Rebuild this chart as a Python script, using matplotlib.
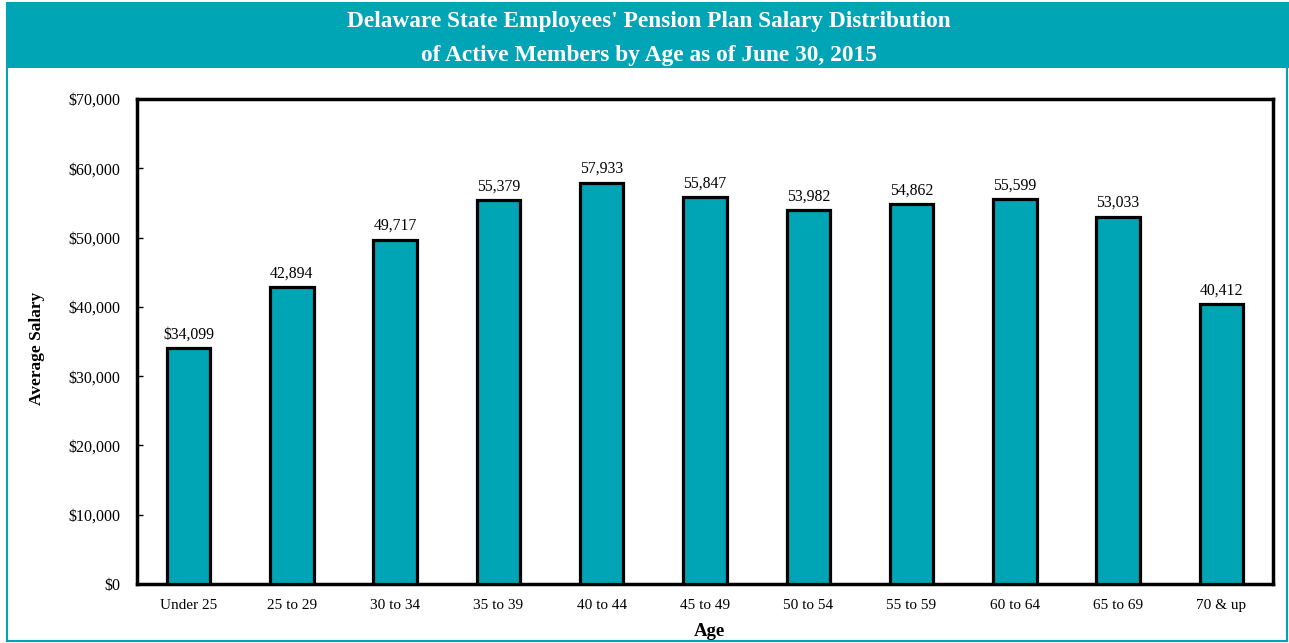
import matplotlib
matplotlib.use("Agg")
import matplotlib.pyplot as plt
from matplotlib.patches import Rectangle
from matplotlib.lines import Line2D

categories = ["Under 25", "25 to 29", "30 to 34", "35 to 39", "40 to 44", "45 to 49",
              "50 to 54", "55 to 59", "60 to 64", "65 to 69", "70 & up"]
salaries = [34099, 42894, 49717, 55379, 57933, 55847, 53982, 54862, 55599, 53033, 40412]
value_labels = ["$34,099", "42,894", "49,717", "55,379", "57,933", "55,847",
                "53,982", "54,862", "55,599", "53,033", "40,412"]
yticks = [0, 10000, 20000, 30000, 40000, 50000, 60000, 70000]
ytick_labels = ["$0", "$10,000", "$20,000", "$30,000", "$40,000", "$50,000", "$60,000", "$70,000"]

TEAL = "#00A5B5"
W, H = 1289, 643
plt.rcParams['font.family'] = ['Liberation Serif', 'DejaVu Serif']

fig = plt.figure(figsize=(W / 100, H / 100), dpi=100)

# title band
fig.patches.append(Rectangle((6 / W, 1 - 68 / H), 1 - 6 / W, 66 / H, transform=fig.transFigure,
                             facecolor=TEAL, edgecolor='none', zorder=0))
# outer border
for (x0, y0, x1, y1) in [(6.5, 68, 6.5, 641), (1286.5, 68, 1286.5, 641), (6.5, 640.5, 1286.5, 640.5)]:
    fig.lines.append(Line2D([x0 / W, x1 / W], [1 - y0 / H, 1 - y1 / H], transform=fig.transFigure,
                            color=TEAL, linewidth=1.5))

fig.text(649 / W, 1 - 22 / H, "Delaware State Employees' Pension Plan Salary Distribution",
         ha='center', va='center', color='white', fontsize=16.8, fontweight='bold')
fig.text(649 / W, 1 - 55 / H, "of Active Members by Age as of June 30, 2015",
         ha='center', va='center', color='white', fontsize=16.8, fontweight='bold')

ax = fig.add_axes([137 / W, 1 - 584 / H, (1273 - 137) / W, (584 - 99) / H])
x = list(range(len(categories)))
ax.bar(x, salaries, width=0.42, color=TEAL, edgecolor='black', linewidth=2.3, zorder=3)
for xi, v, lab in zip(x, salaries, value_labels):
    ax.text(xi, v + 800, lab, ha='center', va='bottom', fontsize=11.3)

ax.set_xlim(-0.5, len(categories) - 0.5)
ax.set_ylim(0, 70000)
ax.set_yticks(yticks)
ax.set_yticklabels(ytick_labels, fontsize=11.5)
ax.set_xticks(x)
ax.set_xticklabels(categories, fontsize=11)
ax.tick_params(axis='y', direction='in', length=4, width=1, pad=12)
ax.tick_params(axis='x', length=0, pad=11)
for s in ax.spines.values():
    s.set_linewidth(2.5)
    s.set_color('black')

fig.text(37 / W, 1 - 348 / H, "Average Salary", rotation=90, ha='center', va='center',
         fontsize=12.5, fontweight='bold')
fig.text(709 / W, 1 - 631 / H, "Age", ha='center', va='center', fontsize=13.5, fontweight='bold')

fig.savefig("out.png", dpi=100)
